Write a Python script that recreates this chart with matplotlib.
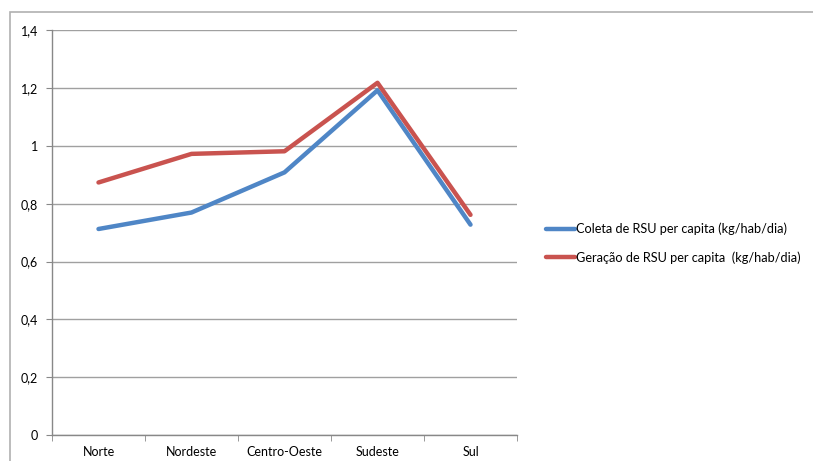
import matplotlib.pyplot as plt
import numpy as np
from matplotlib.patches import Rectangle

regioes = ['Norte', 'Nordeste', 'Centro-Oeste', 'Sudeste', 'Sul']
coleta = [0.713, 0.770, 0.909, 1.193, 0.728]
geracao = [0.874, 0.973, 0.982, 1.219, 0.762]
yticks = [0, 0.2, 0.4, 0.6, 0.8, 1.0, 1.2, 1.4]
ylabels = ['0', '0,2', '0,4', '0,6', '0,8', '1', '1,2', '1,4']

plt.rcParams['font.family'] = ['Lato', 'DejaVu Sans']

fig = plt.figure(figsize=(8.13, 4.61), dpi=100)
ax = fig.add_axes([52/813, 26/461, 465/813, 404.5/461])

# outer chart frame
fig.patches.append(Rectangle((10/813, -0.1), 1.0, 1 - 12/461 + 0.1, transform=fig.transFigure,
                             fill=False, edgecolor='#b0b0b0', linewidth=1.2))

x = np.arange(len(regioes))
ax.plot(x, coleta, color='#4F86C6', linewidth=3.2, solid_capstyle='round', solid_joinstyle='round',
        label='Coleta de RSU per capita (kg/hab/dia)')
ax.plot(x, geracao, color='#C9534F', linewidth=3.2, solid_capstyle='round', solid_joinstyle='round',
        label='Geração de RSU per capita  (kg/hab/dia)')

ax.set_xlim(-0.5, len(regioes) - 0.5)
ax.set_ylim(0, 1.4)
ax.set_yticks(yticks)
ax.set_yticklabels(ylabels)
ax.set_xticks(x)
ax.set_xticklabels(regioes)
ax.set_xticks(np.arange(-0.5, len(regioes)), minor=True)
ax.tick_params(axis='x', which='major', length=0, pad=8, labelsize=9)
ax.tick_params(axis='x', which='minor', length=4, color='#888888', direction='out')
ax.tick_params(axis='y', length=4, color='#888888', pad=6, labelsize=9)

ax.grid(axis='y', color='#a0a0a0', linewidth=1)
ax.set_axisbelow(True)
for side in ['top', 'right']:
    ax.spines[side].set_visible(False)
for side in ['left', 'bottom']:
    ax.spines[side].set_color('#888888')
    ax.spines[side].set_linewidth(1)

fig.legend(loc='center left', bbox_to_anchor=(534/813, 1 - 243/461), frameon=False,
           fontsize=9.2, handlelength=2.3, handletextpad=0.1, labelspacing=1.25)

fig.savefig('out.png', dpi=100)
